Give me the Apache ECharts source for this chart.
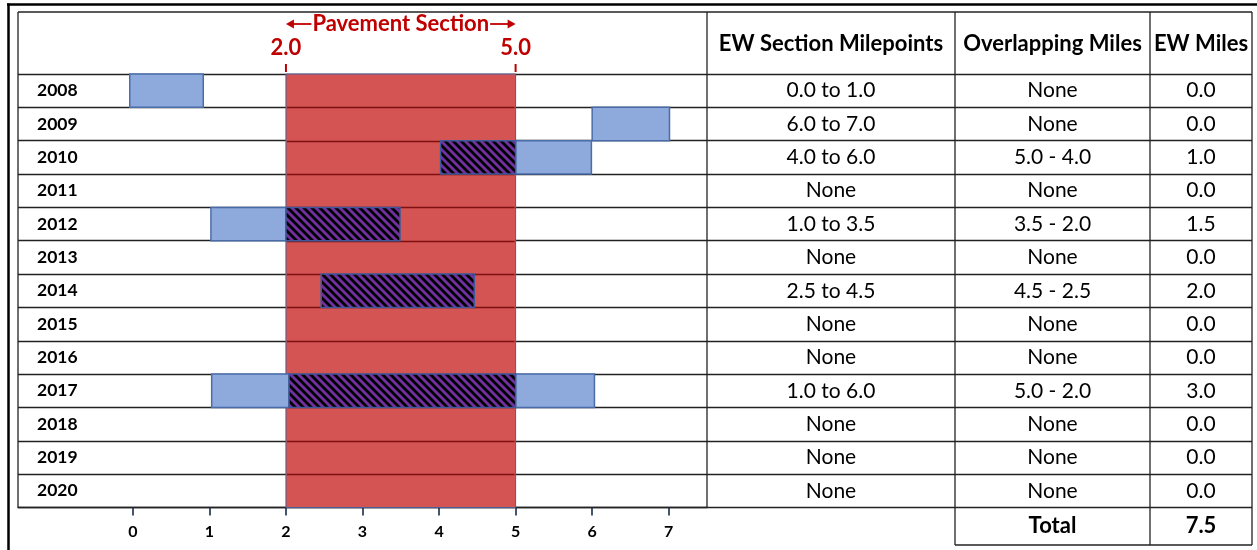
<!DOCTYPE html>
<html><head><meta charset="utf-8">
<script src="https://cdn.jsdelivr.net/npm/echarts@6/dist/echarts.min.js"></script>
<style>html,body{margin:0;padding:0;background:#fff}#c{width:1257px;height:550px}</style>
</head><body><div id="c"></div>
<script>
// ---------------- data ----------------
const years = ['2008','2009','2010','2011','2012','2013','2014','2015','2016','2017','2018','2019','2020'];
const xTicks = [0, 1, 2, 3, 4, 5, 6, 7];
const pavementStart = 2.0;
const pavementEnd = 5.0;
const pavementLabels = ['2.0', '5.0'];
const pavementTitle = 'Pavement Section';
// EW sections outside the pavement section: [yearIndex, start, end]
const ewOutside = [[0, -0.04, 0.92], [1, 6.0, 7.01], [2, 5.0, 5.99], [4, 1.02, 2.0], [9, 1.03, 2.04], [9, 5.0, 6.03]];
// EW sections overlapping the pavement section: [yearIndex, start, end]
const ewOverlap = [[2, 4.02, 5.0], [4, 2.0, 3.49], [6, 2.46, 4.46], [9, 2.04, 5.0]];
const tableHeaders = ['EW Section Milepoints', 'Overlapping Miles', 'EW Miles'];
const milepoints = ['0.0 to 1.0','6.0 to 7.0','4.0 to 6.0','None','1.0 to 3.5','None','2.5 to 4.5','None','None','1.0 to 6.0','None','None','None'];
const overlapping = ['None','None','5.0 - 4.0','None','3.5 - 2.0','None','4.5 - 2.5','None','None','5.0 - 2.0','None','None','None'];
const ewMiles = ['0.0','0.0','1.0','0.0','1.5','0.0','2.0','0.0','0.0','3.0','0.0','0.0','0.0'];
const totalLabel = 'Total';
const totalValue = '7.5';

// ---------------- layout ----------------
const FONT = 'Lato, "Open Sans", sans-serif';
const L0 = 18, X1 = 707, C2 = 955, C3 = 1150, R = 1252;
const TOP = 12, GT = 74, GB = 507.5, TB = 545;
const colCenters = [(X1 + C2) / 2 - X1, (C2 + C3) / 2 - X1, (C3 + R) / 2 - X1];
const RED = '#C00000';
const LINE = '#222';

function hatch() {
  const s = 8;
  const c = document.createElement('canvas');
  c.width = c.height = s;
  const g = c.getContext('2d');
  g.fillStyle = '#7030A0';
  g.fillRect(0, 0, s, s);
  g.strokeStyle = '#000';
  g.lineWidth = 2.8;
  g.beginPath();
  for (const k of [-s, 0, s]) { g.moveTo(k - 2, -2); g.lineTo(k + s + 2, s + 2); }
  g.stroke();
  return c;
}
const hatchCanvas = hatch();

function measure(text, font) {
  const c = document.createElement('canvas').getContext('2d');
  c.font = font;
  return c.measureText(text).width;
}

const H = (x1, x2, y, w, c) => ({ type: 'line', silent: true, z: 100, shape: { x1, y1: y, x2, y2: y }, style: { stroke: c || LINE, lineWidth: w || 1.3 } });
const V = (x, y1, y2, w, c) => ({ type: 'line', silent: true, z: 100, shape: { x1: x, y1, x2: x, y2 }, style: { stroke: c || LINE, lineWidth: w || 1.3 } });
const T = (x, y, text, size, weight) => ({ type: 'text', silent: true, z: 100, x, y, style: { text, fill: '#000', font: (weight || 'bold') + ' ' + size + 'px ' + FONT, align: 'center', verticalAlign: 'middle' } });

const graphic = [
  H(7, 1257, 4.5, 2.5, '#000'),
  V(8.5, 3.5, 550, 2.5, '#000'),
  H(L0, R, TOP, 1.5),
  V(L0, TOP, GB), V(X1, TOP, GB), V(C2, TOP, TB), V(C3, TOP, TB), V(R, TOP, TB),
  H(C2, R, TB, 1.5),
  T(X1 + colCenters[0], 44, tableHeaders[0], 22),
  T(X1 + colCenters[1], 44, tableHeaders[1], 22),
  T(X1 + colCenters[2], 44, tableHeaders[2], 22),
  T(X1 + colCenters[1], (GB + TB) / 2, totalLabel, 22),
  T(X1 + colCenters[2], (GB + TB) / 2, totalValue, 22)
];

function barItem(fill, stroke) {
  return function (params, api) {
    const y = api.value(0);
    const p0 = api.coord([api.value(1), y]);
    const p1 = api.coord([api.value(2), y]);
    const h = api.size([0, 1])[1];
    return {
      type: 'rect',
      shape: { x: p0[0], y: p0[1] - h / 2, width: p1[0] - p0[0], height: h },
      style: { fill: fill, stroke: stroke, lineWidth: 1.5 }
    };
  };
}

const chart = echarts.init(document.getElementById('c'), null, { renderer: 'canvas' });
chart.setOption({
  animation: false,
  backgroundColor: '#fff',
  graphic: graphic,
  grid: [
    { left: L0, top: GT, width: X1 - L0, height: GB - GT },
    { left: X1, top: GT, width: R - X1, height: GB - GT }
  ],
  xAxis: [
    {
      gridIndex: 0, type: 'value', min: -1.5, max: 7.5,
      splitLine: { show: false },
      axisLine: { show: true, lineStyle: { color: LINE, width: 1.3 } },
      axisTick: { show: true, customValues: xTicks, length: 8, lineStyle: { color: '#1a2a4a', width: 1.6 } },
      axisLabel: { customValues: xTicks, margin: 16, color: '#000', fontWeight: 'bold', fontSize: 16, fontFamily: FONT }
    },
    { gridIndex: 1, type: 'value', min: 0, max: R - X1, show: false }
  ],
  yAxis: [
    {
      gridIndex: 0, type: 'category', data: years, inverse: true,
      axisLine: { show: false }, axisTick: { show: false },
      splitLine: { show: true, lineStyle: { color: LINE, width: 1.3 } },
      axisLabel: { inside: true, margin: 19, color: '#000', fontWeight: 'bold', fontSize: 17.5, fontFamily: FONT }
    },
    {
      gridIndex: 1, type: 'category', data: years, inverse: true,
      axisLine: { show: false }, axisTick: { show: false }, axisLabel: { show: false },
      splitLine: { show: true, lineStyle: { color: LINE, width: 1.3 } }
    }
  ],
  series: [
    {
      type: 'custom', xAxisIndex: 0, yAxisIndex: 0, z: 2, clip: false,
      data: [[pavementStart, pavementEnd, 0, years.length - 1]],
      encode: { x: [0, 1], y: [2, 3] },
      renderItem: function (params, api) {
        const h = api.size([0, 1])[1];
        const a = api.coord([api.value(0), api.value(2)]);
        const b = api.coord([api.value(1), api.value(3)]);
        const x0 = a[0], x1 = b[0];
        const yTop = a[1] - h / 2, yBot = b[1] + h / 2;
        const tFont = 'bold 22px ' + FONT;
        const tw = measure(pavementTitle, tFont);
        const mid = (x0 + x1) / 2, ay = yTop - 50;
        const lEnd = mid - tw / 2 - 1, rStart = mid + tw / 2 + 1;
        const ah = 8, aw = 4.5;
        return {
          type: 'group',
          children: [
            { type: 'rect', shape: { x: x0, y: yTop, width: x1 - x0, height: yBot - yTop },
              style: { fill: '#D45353', stroke: '#4A5E9A', lineWidth: 1 } },
            { type: 'line', shape: { x1: x0, y1: yTop - 10, x2: x0, y2: yTop - 2 }, style: { stroke: RED, lineWidth: 2 } },
            { type: 'line', shape: { x1: x1, y1: yTop - 10, x2: x1, y2: yTop - 2 }, style: { stroke: RED, lineWidth: 2 } },
            { type: 'text', x: x0, y: yTop - 26, style: { text: pavementLabels[0], fill: RED, font: 'bold 22px ' + FONT, align: 'center', verticalAlign: 'middle' } },
            { type: 'text', x: x1, y: yTop - 26, style: { text: pavementLabels[1], fill: RED, font: 'bold 22px ' + FONT, align: 'center', verticalAlign: 'middle' } },
            { type: 'text', x: mid, y: ay, style: { text: pavementTitle, fill: RED, font: tFont, align: 'center', verticalAlign: 'middle' } },
            { type: 'line', shape: { x1: x0 + ah - 1, y1: ay, x2: lEnd, y2: ay }, style: { stroke: RED, lineWidth: 1.8 } },
            { type: 'polygon', shape: { points: [[x0, ay], [x0 + ah, ay - aw], [x0 + ah, ay + aw]] }, style: { fill: RED } },
            { type: 'line', shape: { x1: rStart, y1: ay, x2: x1 - ah + 1, y2: ay }, style: { stroke: RED, lineWidth: 1.8 } },
            { type: 'polygon', shape: { points: [[x1, ay], [x1 - ah, ay - aw], [x1 - ah, ay + aw]] }, style: { fill: RED } }
          ]
        };
      }
    },
    {
      // dark-red row separators visible through the pavement section
      type: 'custom', xAxisIndex: 0, yAxisIndex: 0, z: 2.5, clip: false,
      data: years.slice(1).map((y, i) => [pavementStart, pavementEnd, i + 1]),
      encode: { x: [0, 1], y: 2 },
      renderItem: function (params, api) {
        const h = api.size([0, 1])[1];
        const a = api.coord([api.value(0), api.value(2)]);
        const b = api.coord([api.value(1), api.value(2)]);
        const yy = Math.round(a[1] - h / 2) + 0.5;
        return { type: 'line', shape: { x1: a[0] + 1, y1: yy, x2: b[0] - 1, y2: yy },
          style: { stroke: '#7E1010', lineWidth: 1.6, fill: null } };
      }
    },
    {
      type: 'custom', xAxisIndex: 0, yAxisIndex: 0, z: 3, clip: false,
      data: ewOutside, encode: { x: [1, 2], y: 0 },
      renderItem: barItem('#8EA9DB', '#4A6DAA')
    },
    {
      type: 'custom', xAxisIndex: 0, yAxisIndex: 0, z: 3, clip: false,
      data: ewOverlap, encode: { x: [1, 2], y: 0 },
      renderItem: barItem({ image: hatchCanvas, repeat: 'repeat' }, '#3E5A9A')
    },
    {
      type: 'custom', xAxisIndex: 1, yAxisIndex: 1, z: 3, clip: false,
      data: years.map((y, i) => [i]), encode: { y: 0 },
      renderItem: function (params, api) {
        const i = params.dataIndex;
        const cy = api.coord([0, i])[1];
        const texts = [milepoints[i], overlapping[i], ewMiles[i]];
        return {
          type: 'group',
          children: texts.map((t, k) => ({
            type: 'text', x: api.coord([colCenters[k], i])[0], y: cy,
            style: { text: t, fill: '#000', font: '21px ' + FONT, align: 'center', verticalAlign: 'middle' }
          }))
        };
      }
    }
  ]
});
</script>
</body></html>
